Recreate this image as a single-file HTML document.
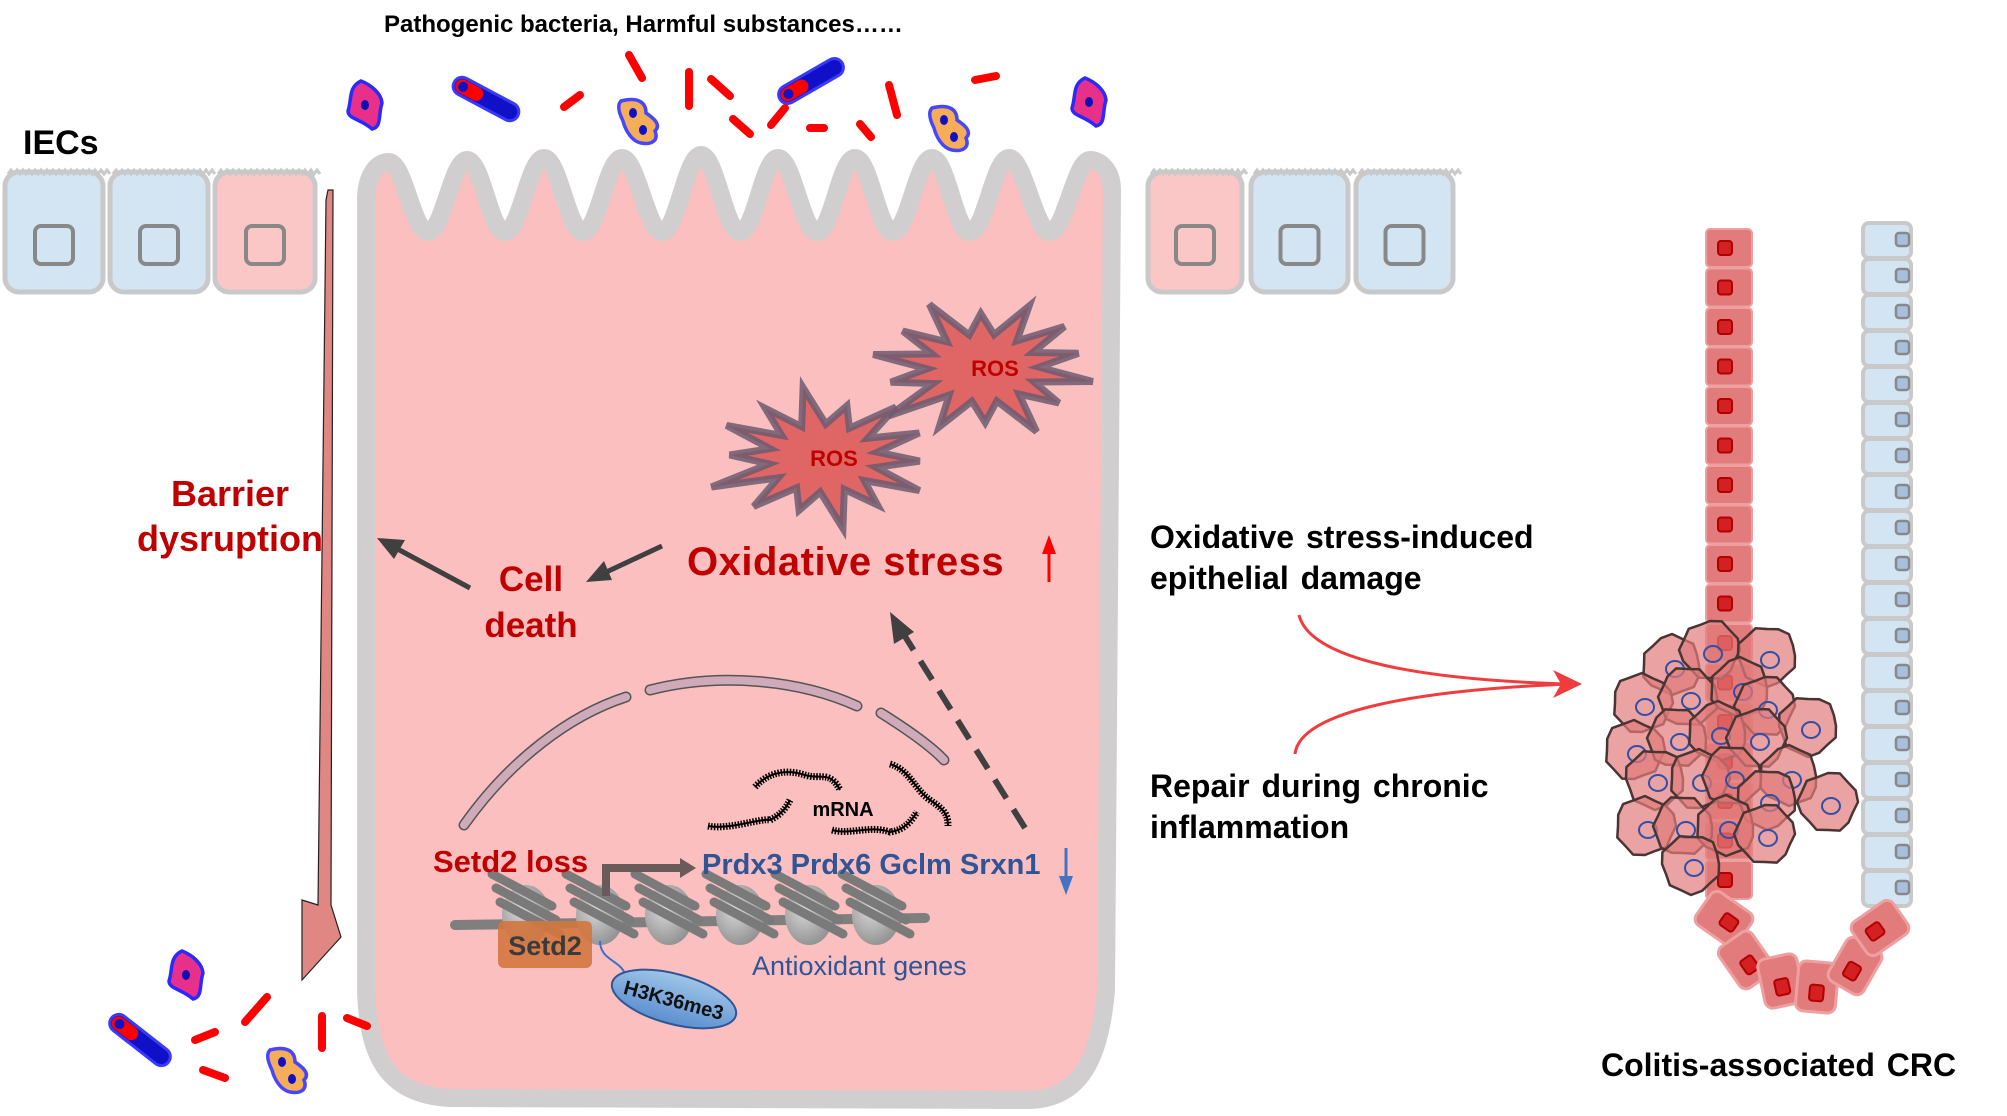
<!DOCTYPE html>
<html><head><meta charset="utf-8">
<style>
html,body{margin:0;padding:0;background:#fff;}
svg{display:block;}
text{font-family:"Liberation Sans",Arial,sans-serif;}
</style></head>
<body>
<svg id="s" width="2007" height="1116" viewBox="0 0 2007 1116" xmlns="http://www.w3.org/2000/svg">
<defs>
<linearGradient id="hg" x1="0" y1="0" x2="0" y2="1"><stop offset="0" stop-color="#9fc5e8"/><stop offset="1" stop-color="#5b8fd0"/></linearGradient>
<radialGradient id="nuc" cx="0.4" cy="0.4" r="0.7"><stop offset="0" stop-color="#d8d8d8"/><stop offset="1" stop-color="#8a8a8a"/></radialGradient>
</defs>
<g id="bg"></g>

<path d="M366,200 L366,990 C368,1060 390,1095 450,1098 L1030,1100 C1080,1098 1100,1060 1106,990 L1112,190 C1112,170 1100,160 1090,160 C1075,160 1065,232 1050,232 C1035,232 1024,158 1009,158 C994,158 985,232 970,232 C955,232 947,158 932,158 C917,158 908,232 893,232 C878,232 870,158 855,158 C840,158 832,232 817,232 C802,232 793,158 778,158 C763,158 755,232 740,232 C725,232 716,155 701,155 C686,155 677,232 662,232 C647,232 637,158 622,158 C607,158 598,232 583,232 C568,232 559,158 544,158 C529,158 520,232 505,232 C490,232 482,160 467,160 C452,160 443,232 428,232 C413,232 404,162 389,162 C374,162 366,180 366,200 Z" fill="#fbbfbf" stroke="#d0cece" stroke-width="18" stroke-linejoin="round"/>

<g id="cells"></g>

<polygon points="328,190 333,190 331,905 341,937 302,980 302,900 318,905 326,200" fill="#e08784" stroke="#222" stroke-width="1.2"/>

<g id="stars"></g>
<text x="995" y="376" font-size="22" font-weight="bold" fill="#c00000" text-anchor="middle">ROS</text>
<text x="834" y="466" font-size="22" font-weight="bold" fill="#c00000" text-anchor="middle">ROS</text>

<text x="384" y="32" font-size="24" font-weight="bold" fill="#000">Pathogenic bacteria, Harmful substances……</text>
<text x="23" y="154" font-size="34" font-weight="bold" fill="#000">IECs</text>
<text x="230" y="506" font-size="36" font-weight="bold" fill="#c00000" text-anchor="middle">Barrier</text>
<text x="230" y="551" font-size="36" font-weight="bold" fill="#c00000" text-anchor="middle">dysruption</text>
<text x="531" y="591" font-size="35" font-weight="bold" fill="#c00000" text-anchor="middle">Cell</text>
<text x="531" y="637" font-size="35" font-weight="bold" fill="#c00000" text-anchor="middle">death</text>
<text x="687" y="575" font-size="40" font-weight="bold" fill="#c00000" letter-spacing="0.5">Oxidative stress</text>
<line x1="1049" y1="582" x2="1049" y2="547" stroke="#ff0000" stroke-width="3"/>
<polygon points="1049,535 1042,554 1056,554" fill="#ff0000"/>

<line x1="662" y1="546" x2="600" y2="575" stroke="#404040" stroke-width="5"/>
<polygon points="586,582 604,561 612,580" fill="#404040"/>
<line x1="470" y1="588" x2="392" y2="546" stroke="#404040" stroke-width="5"/>
<polygon points="377,538 405,540 394,559" fill="#404040"/>
<line x1="1025" y1="828" x2="901" y2="630" stroke="#404040" stroke-width="6" stroke-dasharray="22,13"/>
<polygon points="890,612 914,632 894,644" fill="#404040"/>

<g fill="none" stroke-linecap="round">
<path d="M464,825 C510,760 570,715 626,697" stroke="#555" stroke-width="11"/>
<path d="M464,825 C510,760 570,715 626,697" stroke="#cfaab8" stroke-width="8"/>
<path d="M650,690 C720,672 800,680 857,706" stroke="#555" stroke-width="11"/>
<path d="M650,690 C720,672 800,680 857,706" stroke="#cfaab8" stroke-width="8"/>
<path d="M881,713 C905,728 930,745 944,760" stroke="#555" stroke-width="11"/>
<path d="M881,713 C905,728 930,745 944,760" stroke="#cfaab8" stroke-width="8"/>
</g>
<g fill="none" stroke="#000" stroke-width="2">
<path d="M755,787 C770,770 790,770 805,775 C820,780 830,770 840,790" stroke-dasharray="1.5,1.5" stroke-width="7"/>
<path d="M755,787 C770,770 790,770 805,775 C820,780 830,770 840,790"/>
<path d="M708,826 C730,830 760,818 770,820 C780,815 785,810 790,800" stroke-dasharray="1.5,1.5" stroke-width="7"/>
<path d="M708,826 C730,830 760,818 770,820 C780,815 785,810 790,800"/>
<path d="M832,830 C850,835 870,825 890,832 C905,830 912,820 917,812" stroke-dasharray="1.5,1.5" stroke-width="7"/>
<path d="M832,830 C850,835 870,825 890,832 C905,830 912,820 917,812"/>
<path d="M890,764 C910,770 915,790 930,800 C945,810 948,815 948,826" stroke-dasharray="1.5,1.5" stroke-width="7"/>
<path d="M890,764 C910,770 915,790 930,800 C945,810 948,815 948,826"/>
</g>
<text x="843" y="816" font-size="20" font-weight="bold" fill="#000" text-anchor="middle">mRNA</text>

<path d="M455,925 L925,918" stroke="#7f7f7f" stroke-width="10" stroke-linecap="round" fill="none"/>
<g id="nucs"></g>
<rect x="498" y="921" width="94" height="47" rx="6" fill="#d4773f" fill-opacity="0.9"/>
<text x="545" y="955" font-size="27" font-weight="bold" fill="#3a3a3a" text-anchor="middle">Setd2</text>
<path d="M600,941 C600,960 620,960 625,974" stroke="#3a6fd0" stroke-width="2" fill="none"/>
<ellipse cx="674" cy="999" rx="64" ry="25" transform="rotate(15 674 999)" fill="url(#hg)" stroke="#2f5597" stroke-width="2"/>
<text x="674" y="1007" font-size="20" font-weight="bold" fill="#111" text-anchor="middle" transform="rotate(15 674 999)">H3K36me3</text>
<text x="752" y="975" font-size="27" fill="#2f5597">Antioxidant genes</text>

<text x="433" y="872" font-size="31" font-weight="bold" fill="#c00000">Setd2 loss</text>
<path d="M606,896 L606,868 L682,868" stroke="#6b5a5a" stroke-width="8" fill="none"/>
<polygon points="680,858 696,868 680,878" fill="#6b5a5a"/>
<text x="702" y="874" font-size="29" font-weight="bold" fill="#2f5597">Prdx3 Prdx6 Gclm Srxn1</text>
<line x1="1066" y1="848" x2="1066" y2="882" stroke="#4472c4" stroke-width="3"/>
<polygon points="1066,895 1059,876 1073,876" fill="#4472c4"/>

<text x="1150" y="548" font-size="32" font-weight="bold" fill="#000" word-spacing="3">Oxidative stress-induced</text>
<text x="1150" y="589" font-size="32" font-weight="bold" fill="#000" word-spacing="3">epithelial damage</text>
<text x="1150" y="797" font-size="32" font-weight="bold" fill="#000" word-spacing="3">Repair during chronic</text>
<text x="1150" y="838" font-size="32" font-weight="bold" fill="#000">inflammation</text>
<text x="1601" y="1076" font-size="32" font-weight="bold" fill="#000" word-spacing="3">Colitis-associated CRC</text>
<path d="M1299,615 C1310,660 1420,680 1570,684" stroke="#f03c3c" stroke-width="3" fill="none"/>
<path d="M1295,754 C1300,710 1420,690 1570,684" stroke="#f03c3c" stroke-width="3" fill="none"/>
<polygon points="1582,684 1553,670 1561,684 1553,698" fill="#f03c3c"/>

<g id="crypt"></g>
<g id="tumor"></g>
<g id="bugs"></g>
</svg>
<script>
var NS="http://www.w3.org/2000/svg";
function el(p,t,a){var e=document.createElementNS(NS,t);for(var k in a)e.setAttribute(k,a[k]);document.getElementById(p).appendChild(e);return e;}
function iec(x,w,fill){
  var y=172,h=120;
  el('cells','rect',{x:x,y:y,width:w,height:h,rx:14,fill:fill,stroke:'#c9c9c9','stroke-width':5});
  var d='M'+(x+3)+','+(y+2);for(var i=0;i<w/6;i++){d+=' l3,-4 l3,4';}
  el('cells','path',{d:d,fill:'none',stroke:'#c9c9c9','stroke-width':3});
  var cx=x+w/2;el('cells','rect',{x:cx-19,y:226,width:38,height:38,rx:6,fill:'none',stroke:'#888','stroke-width':4});
}
iec(5,98,'#d3e4f3');iec(110,98,'#d3e4f3');iec(215,100,'#fbc6c6');
iec(1148,94,'#fbc6c6');iec(1251,97,'#d3e4f3');iec(1356,97,'#d3e4f3');
function star(cx,cy,rx,ry,rot){
  var n=14,pts=[],rr=[1,0.85,1.05,0.8,0.95,1.1,0.85,1,0.9,1.05,0.8,1,0.95,0.88];
  for(var i=0;i<2*n;i++){var a=rot+Math.PI*i/n;var f=i%2==0?rr[(i/2)%14]:0.5;pts.push((cx+Math.cos(a)*rx*f).toFixed(1)+','+(cy+Math.sin(a)*ry*f).toFixed(1));}
  el('stars','polygon',{points:pts.join(' '),fill:'#e06666',stroke:'#6b5b70','stroke-width':7,'stroke-linejoin':'miter','stroke-opacity':0.85});
}
star(983,368,112,68,0.2);star(823,458,110,68,0.5);
[526,600,669,740,809,876].forEach(function(x){
  el('nucs','ellipse',{cx:x,cy:915,rx:24,ry:30,fill:'url(#nuc)'});
  for(var k=-1;k<=1;k++){el('nucs','line',{x1:x-30+k*4,y1:888+k*14,x2:x+30+k*4,y2:920+k*14,stroke:'#7a7a7a','stroke-width':9,'stroke-linecap':'round'});}
});
for(var i=0;i<17;i++){var y=229+i*39.5;
  el('crypt','rect',{x:1706,y:y,width:46,height:38,rx:4,fill:'#e27b7b',stroke:'#eea0a0','stroke-width':2});
  el('crypt','rect',{x:1718,y:y+12,width:14,height:14,rx:3,fill:'#d42020',stroke:'#b00000','stroke-width':2});}
for(var i=0;i<19;i++){var y=223+i*36;
  el('crypt','rect',{x:1863,y:y,width:48,height:35,rx:6,fill:'#d3e4f3',stroke:'#c9c9c9','stroke-width':4});
  el('crypt','rect',{x:1896,y:y+10,width:13,height:13,rx:3,fill:'#a8c0dc',stroke:'#888','stroke-width':2.5});}
[[1724,919,-55],[1746,960,-35],[1781,981,-12],[1817,987,5],[1855,966,30],[1880,928,55]].forEach(function(c){
  var g='rotate('+c[2]+' '+c[0]+' '+c[1]+')';
  el('crypt','rect',{x:c[0]-20,y:c[1]-25,width:40,height:50,rx:8,fill:'#e27b7b',stroke:'#eea0a0','stroke-width':3,transform:g});
  el('crypt','rect',{x:c[0]-7,y:c[1]-2,width:14,height:16,rx:3,fill:'#d42020',stroke:'#b00000','stroke-width':2,transform:g});
});
[[1672,665],[1710,650],[1767,656],[1642,703],[1688,697],[1740,688],[1765,706],[1808,726],[1634,750],[1677,738],[1718,732],[1757,738],[1655,779],[1699,779],[1732,776],[1789,776],[1828,802],[1767,799],[1645,826],[1683,826],[1726,826],[1765,834],[1691,864]].forEach(function(c,j){
  var pts=[];for(var i=0;i<16;i++){var a=Math.PI*2*i/16;var r=29+((i*7+j*3)%5)-2;pts.push((c[0]+Math.cos(a)*r).toFixed(1)+','+(c[1]+Math.sin(a)*r).toFixed(1));}
  el('tumor','polygon',{points:pts.join(' '),fill:'#e27b7b','fill-opacity':0.7,stroke:'#4a3535','stroke-width':2.5,'stroke-linejoin':'round'});
  el('tumor','ellipse',{cx:c[0]+3,cy:c[1]+4,rx:9,ry:8,fill:'none',stroke:'#2f4fa8','stroke-width':2});
});
function dash(x1,y1,x2,y2){el('bugs','line',{x1:x1,y1:y1,x2:x2,y2:y2,stroke:'#ff0000','stroke-width':8,'stroke-linecap':'round'});}
function rod(cx,cy,rot){var t='rotate('+rot+' '+cx+' '+cy+')';
  el('bugs','rect',{x:cx-36,y:cy-9,width:72,height:18,rx:9,fill:'#1010c8',stroke:'#3a3aff','stroke-width':3,transform:t});
  el('bugs','rect',{x:cx-34,y:cy-7,width:30,height:14,rx:7,fill:'#ff0000',transform:t});
  el('bugs','circle',{cx:cx-26,cy:cy,r:5,fill:'#1010c8',transform:t});}
function pink(cx,cy){el('bugs','path',{d:'M'+(cx-5)+','+(cy-24)+' C'+(cx+5)+','+(cy-20)+' '+(cx+15)+','+(cy-12)+' '+(cx+16)+','+(cy-2)+' C'+(cx+12)+','+(cy+10)+' '+(cx+16)+','+(cy+22)+' '+(cx+6)+','+(cy+24)+' C'+(cx-5)+','+(cy+14)+' '+(cx-18)+','+(cy+14)+' '+(cx-18)+','+(cy+6)+' C'+(cx-14)+','+(cy-5)+' '+(cx-18)+','+(cy-18)+' '+(cx-5)+','+(cy-24)+'Z',fill:'#e8308a',stroke:'#2a2aff','stroke-width':3.5});
  el('bugs','ellipse',{cx:cx-1,cy:cy,rx:4,ry:5,fill:'#1010b0'});}
function orange(cx,cy){el('bugs','path',{d:'M'+(cx-20)+','+(cy-20)+' C'+(cx-5)+','+(cy-24)+' '+(cx+5)+','+(cy-20)+' '+(cx+5)+','+(cy-8)+' C'+(cx+14)+','+(cy-2)+' '+(cx+20)+','+(cy+4)+' '+(cx+14)+','+(cy+10)+' C'+(cx+18)+','+(cy+20)+' '+(cx+10)+','+(cy+24)+' '+(cx)+','+(cy+22)+' C'+(cx-10)+','+(cy+20)+' '+(cx-16)+','+(cy+8)+' '+(cx-18)+','+(cy)+' C'+(cx-22)+','+(cy-8)+' '+(cx-24)+','+(cy-16)+' '+(cx-20)+','+(cy-20)+'Z',fill:'#f6ad58',stroke:'#4646ff','stroke-width':3.5});
  el('bugs','ellipse',{cx:cx-8,cy:cy-8,rx:4,ry:5,fill:'#1010c8'});el('bugs','ellipse',{cx:cx+2,cy:cy+9,rx:4,ry:5,fill:'#1010c8'});}
pink(366,105);rod(486,99,28);orange(641,121);orange(952,128);pink(1090,102);rod(811,81,-30);
dash(564,107,580,95);dash(629,55,642,78);dash(689,72,689,106);dash(711,79,730,96);dash(733,119,750,134);dash(771,125,785,108);dash(810,128,824,128);dash(860,124,871,137);dash(889,85,897,115);dash(975,80,996,76);
pink(187,975);rod(140,1040,38);orange(290,1070);
dash(195,1040,215,1032);dash(245,1022,267,997);dash(322,1016,322,1048);dash(347,1018,367,1026);dash(203,1070,225,1078);
</script>
</body></html>
